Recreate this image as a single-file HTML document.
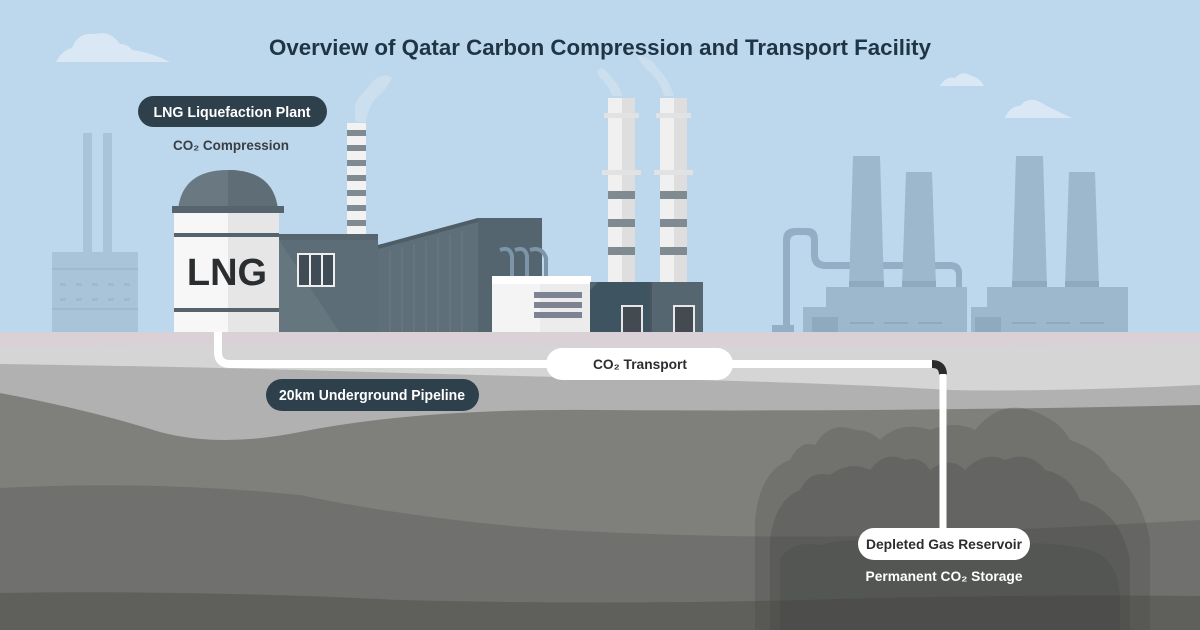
<!DOCTYPE html>
<html><head><meta charset="utf-8"><style>
html,body{margin:0;padding:0;width:1200px;height:630px;overflow:hidden;background:#bdd7ec}
svg{display:block}
text{font-family:"Liberation Sans",sans-serif;font-weight:bold}
</style></head><body>
<svg width="1200" height="630" viewBox="0 0 1200 630" xmlns="http://www.w3.org/2000/svg">
<rect width="1200" height="630" fill="#bdd7ec"/>
<g fill="#d9e8f4">
<path d="M56 62 Q62 50 72 48 Q78 32 95 34 Q110 30 120 44 Q128 44 132 50 Q150 52 170 62 Z"/>
<path d="M940 86 Q946 76 955 78 Q962 70 972 76 Q980 78 984 86 Z"/>
<path d="M1005 118 Q1010 106 1020 106 Q1028 96 1040 102 Q1050 108 1072 118 Z"/>
</g>
<g fill="#cfe1ef" opacity="0.8">
<path d="M356 122 Q352 104 360 96 Q368 88 374 80 Q386 72 392 78 Q386 90 378 96 Q368 106 366 122 Z"/>
<path d="M612 96 Q608 84 600 78 Q594 70 602 68 Q610 74 614 80 Q620 86 622 96 Z"/>
<path d="M664 96 Q660 82 652 74 Q640 64 638 56 Q648 56 656 66 Q668 78 674 96 Z"/>
</g>
<text x="600" y="55" text-anchor="middle" font-size="22" fill="#1f3545" textLength="662" lengthAdjust="spacingAndGlyphs">Overview of Qatar Carbon Compression and Transport Facility</text>

<g fill="#a9c3d8">
<rect x="83" y="133" width="9" height="120"/><rect x="103" y="133" width="9" height="120"/>
<rect x="52" y="252" width="86" height="82"/>
</g>
<g fill="#9fb9ce"><rect x="52" y="268" width="86" height="2"/><rect x="52" y="308" width="86" height="2"/>
<rect x="60" y="283" width="6" height="3"/><rect x="76" y="283" width="6" height="3"/><rect x="92" y="283" width="6" height="3"/><rect x="108" y="283" width="6" height="3"/><rect x="124" y="283" width="6" height="3"/>
<rect x="60" y="298" width="6" height="3"/><rect x="76" y="298" width="6" height="3"/><rect x="92" y="298" width="6" height="3"/><rect x="108" y="298" width="6" height="3"/><rect x="124" y="298" width="6" height="3"/></g>

<g fill="#9db7cd">
<path d="M783 330 L783 240 Q783 228 795 228 L808 228 Q818 228 818 240 L818 255 Q818 262 826 262 L950 262 Q962 262 962 274 L962 288 L956 288 L956 275 Q956 269 950 269 L826 269 Q811 269 811 255 L811 240 Q811 235 805 235 L797 235 Q790 235 790 242 L790 330 Z" fill="#93aec5"/>
<rect x="772" y="325" width="22" height="10" fill="#93aec5"/>
<polygon points="853,156 880,156 884,287 849,287"/>
<polygon points="906,172 932,172 936,287 902,287"/>
<polygon points="1016,156 1043,156 1047,287 1012,287"/>
<polygon points="1069,172 1095,172 1099,287 1065,287"/>
<rect x="826" y="287" width="141" height="48"/>
<rect x="803" y="307" width="164" height="28"/>
<rect x="987" y="287" width="141" height="48"/>
<rect x="971" y="307" width="157" height="28"/>
</g>
<g fill="#8fa9bf"><rect x="849" y="281" width="35" height="6"/><rect x="902" y="281" width="34" height="6"/><rect x="1012" y="281" width="35" height="6"/><rect x="1065" y="281" width="34" height="6"/>
<rect x="812" y="317" width="26" height="18"/><rect x="975" y="317" width="26" height="18"/>
<rect x="850" y="322" width="24" height="2"/><rect x="884" y="322" width="24" height="2"/><rect x="918" y="322" width="24" height="2"/>
<rect x="1012" y="322" width="24" height="2"/><rect x="1046" y="322" width="24" height="2"/><rect x="1080" y="322" width="24" height="2"/></g>

<g><rect x="608" y="98" width="27" height="186" fill="#f0f0f0"/><rect x="622" y="98" width="13" height="186" fill="#dedede"/>
<rect x="604" y="113" width="35" height="5" fill="#e2e2e2"/><rect x="602" y="170" width="39" height="5" fill="#e2e2e2"/>
<rect x="608" y="191" width="27" height="8" fill="#7f8b91"/><rect x="608" y="219" width="27" height="8" fill="#7f8b91"/><rect x="608" y="247" width="27" height="8" fill="#7f8b91"/>
<rect x="660" y="98" width="27" height="186" fill="#f0f0f0"/><rect x="674" y="98" width="13" height="186" fill="#dedede"/>
<rect x="656" y="113" width="35" height="5" fill="#e2e2e2"/><rect x="654" y="170" width="39" height="5" fill="#e2e2e2"/>
<rect x="660" y="191" width="27" height="8" fill="#7f8b91"/><rect x="660" y="219" width="27" height="8" fill="#7f8b91"/><rect x="660" y="247" width="27" height="8" fill="#7f8b91"/></g>
<rect x="347" y="123" width="19" height="112" fill="#f2f2f2"/>
<g fill="#7f8b91"><rect x="347" y="130" width="19" height="6"/><rect x="347" y="145" width="19" height="6"/><rect x="347" y="160" width="19" height="6"/><rect x="347" y="175" width="19" height="6"/><rect x="347" y="190" width="19" height="6"/><rect x="347" y="205" width="19" height="6"/><rect x="347" y="220" width="19" height="6"/></g>

<polygon points="378,245 478,218 542,218 542,333 378,333" fill="#5f6f79"/>
<polygon points="478,218 542,218 542,333 478,333" fill="#55656f"/>
<polygon points="378,245 478,218 478,222 378,249" fill="#4e5d66"/>
<g stroke="#6b7a84" stroke-width="1">
<line x1="390" y1="250" x2="390" y2="333"/><line x1="402" y1="247" x2="402" y2="333"/><line x1="414" y1="244" x2="414" y2="333"/><line x1="426" y1="241" x2="426" y2="333"/><line x1="438" y1="237" x2="438" y2="333"/><line x1="450" y1="234" x2="450" y2="333"/><line x1="462" y1="231" x2="462" y2="333"/></g>
<g fill="none" stroke="#7c95a8" stroke-width="4"><path d="M500 250 Q510 246 512 256 L512 280"/><path d="M515 250 Q525 246 527 256 L527 280"/><path d="M530 250 Q542 246 546 258 L546 280"/></g>
<rect x="279" y="234" width="99" height="99" fill="#66767f"/>
<polygon points="279,240 378,240 378,333 340,333" fill="#5d6d77"/>
<rect x="279" y="234" width="99" height="6" fill="#56656e"/>
<rect x="297" y="253" width="38" height="34" fill="#eeeeee"/>
<rect x="299" y="255" width="10" height="30" fill="#3f4c55"/><rect x="311" y="255" width="10" height="30" fill="#3f4c55"/><rect x="323" y="255" width="10" height="30" fill="#3f4c55"/>
<rect x="492" y="276" width="99" height="57" fill="#f4f4f4"/>
<rect x="492" y="276" width="99" height="8" fill="#ffffff"/>
<rect x="540" y="284" width="51" height="49" fill="#ececec"/>
<g fill="#7d8392"><rect x="534" y="292" width="48" height="6"/><rect x="534" y="302" width="48" height="6"/><rect x="534" y="312" width="48" height="6"/></g>
<rect x="590" y="282" width="113" height="51" fill="#566670"/>
<polygon points="590,290 598,282 650,282 650,333 590,333" fill="#3e5460"/>
<line x1="651" y1="282" x2="651" y2="333" stroke="#48565f" stroke-width="2"/>
<rect x="621" y="305" width="22" height="28" fill="#e6e6e6"/><rect x="623" y="307" width="18" height="26" fill="#434a52"/>
<rect x="673" y="305" width="22" height="28" fill="#e6e6e6"/><rect x="675" y="307" width="18" height="26" fill="#434a52"/>
<path d="M178 210 Q182 170 228 170 Q274 170 278 210 Z" fill="#6a7882"/>
<path d="M228 170 Q274 170 278 210 L228 210 Z" fill="#5f6d77"/>
<rect x="172" y="206" width="112" height="7" fill="#56646d"/>
<rect x="174" y="213" width="105" height="120" fill="#f7f7f7"/>
<rect x="228" y="213" width="51" height="120" fill="#e6e6e6"/>
<rect x="174" y="233" width="105" height="4" fill="#55636c"/>
<rect x="174" y="308" width="105" height="4" fill="#55636c"/>
<text x="227" y="285" text-anchor="middle" font-size="38" fill="#2b2e31">LNG</text>

<rect x="0" y="332" width="1200" height="298" fill="#d9d1d6"/>
<path d="M0 347 Q300 343 600 346 Q900 348 1200 344 L1200 630 L0 630 Z" fill="#d5d5d5"/>
<path d="M0 364 Q150 366 300 370 Q500 376 700 380 Q850 384 950 390 Q1050 392 1200 385 L1200 630 L0 630 Z" fill="#b1b1b1"/>
<path d="M0 393 Q90 410 160 432 Q220 448 300 432 Q420 408 600 410 Q900 412 1200 405 L1200 630 L0 630 Z" fill="#7f7f7b"/>
<path d="M0 488 Q150 480 300 495 Q420 520 560 530 Q750 540 900 535 Q1050 528 1200 520 L1200 630 L0 630 Z" fill="#70716e"/>
<path d="M0 593 Q200 590 400 600 Q600 605 800 600 Q1000 594 1200 596 L1200 630 L0 630 Z" fill="#5f605c"/>
<g fill="#3e403e">
<path opacity="0.22" d="M755 630 L755 520 Q760 470 790 460 Q800 440 815 445 Q830 420 855 430 Q870 430 880 440 Q900 420 930 430 Q955 420 975 430 Q1000 400 1030 410 Q1060 420 1070 440 Q1100 450 1110 470 Q1140 490 1150 540 L1150 630 Z"/>
<path opacity="0.25" d="M770 630 L770 540 Q775 500 800 490 Q810 470 830 475 Q850 460 870 470 Q885 450 905 460 Q920 455 930 470 Q950 455 965 470 Q985 450 1005 460 Q1030 450 1045 470 Q1070 475 1080 500 Q1120 510 1130 560 L1130 630 Z"/>
<path opacity="0.2" d="M780 630 L780 560 Q790 540 820 545 Q860 535 900 545 Q950 540 1000 545 Q1050 540 1090 550 Q1120 560 1120 600 L1120 630 Z"/>
</g>

<path d="M218 332 L218 352 Q218 364 230 364 L936 364" fill="none" stroke="#ffffff" stroke-width="8"/>
<path d="M932 364 Q943 364 943 375" fill="none" stroke="#2c2c2c" stroke-width="8"/>
<line x1="943" y1="374" x2="943" y2="530" stroke="#ffffff" stroke-width="7"/>

<rect x="138" y="96" width="189" height="31" rx="15.5" fill="#2f404d"/>
<text x="232" y="117" text-anchor="middle" font-size="15" fill="#ffffff" textLength="157" lengthAdjust="spacingAndGlyphs">LNG Liquefaction Plant</text>
<text x="231" y="150" text-anchor="middle" font-size="14" fill="#3a3f44" textLength="116" lengthAdjust="spacingAndGlyphs">CO₂ Compression</text>
<rect x="546" y="348" width="187" height="32" rx="16" fill="#ffffff"/>
<text x="640" y="369" text-anchor="middle" font-size="14" fill="#2b2e31" textLength="94" lengthAdjust="spacingAndGlyphs">CO₂ Transport</text>
<rect x="266" y="379" width="213" height="32" rx="16" fill="#2f404d"/>
<text x="372" y="400" text-anchor="middle" font-size="15" fill="#ffffff" textLength="186" lengthAdjust="spacingAndGlyphs">20km Underground Pipeline</text>
<rect x="858" y="528" width="172" height="32" rx="16" fill="#ffffff"/>
<text x="944" y="549" text-anchor="middle" font-size="14" fill="#2b2e31" textLength="156" lengthAdjust="spacingAndGlyphs">Depleted Gas Reservoir</text>
<text x="944" y="581" text-anchor="middle" font-size="14" fill="#ffffff" textLength="157" lengthAdjust="spacingAndGlyphs">Permanent CO₂ Storage</text>
</svg>
</body></html>
